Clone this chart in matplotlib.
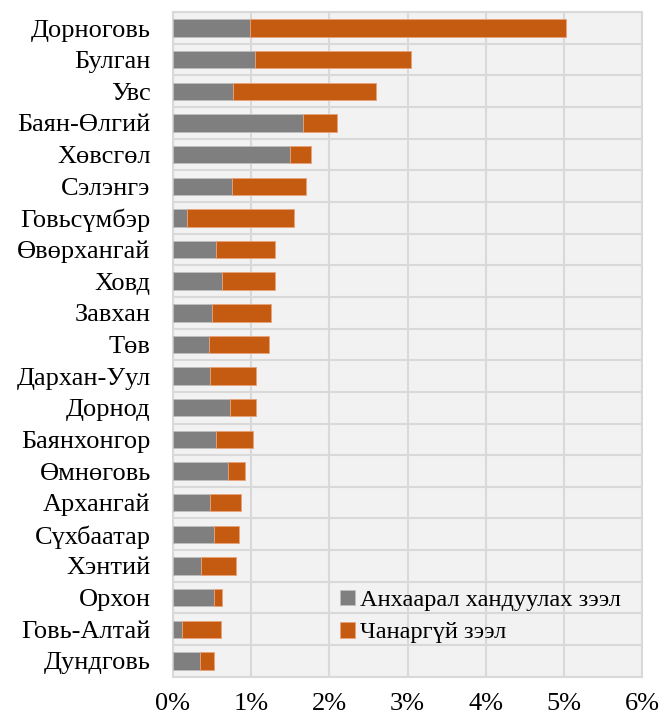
import matplotlib
matplotlib.use("Agg")
import matplotlib.pyplot as plt
import numpy as np

categories = ["Дорноговь", "Булган", "Увс", "Баян-Өлгий", "Хөвсгөл", "Сэлэнгэ",
              "Говьсүмбэр", "Өвөрхангай", "Ховд", "Завхан", "Төв", "Дархан-Уул",
              "Дорнод", "Баянхонгор", "Өмнөговь", "Архангай", "Сүхбаатар", "Хэнтий",
              "Орхон", "Говь-Алтай", "Дундговь"]
attention = [0.99, 1.05, 0.77, 1.66, 1.50, 0.76, 0.18, 0.55, 0.63, 0.50, 0.46, 0.47,
             0.73, 0.55, 0.71, 0.47, 0.53, 0.36, 0.52, 0.11, 0.34]
total = [5.03, 3.04, 2.60, 2.10, 1.77, 1.70, 1.55, 1.30, 1.30, 1.25, 1.23, 1.06,
         1.06, 1.02, 0.92, 0.87, 0.84, 0.81, 0.63, 0.61, 0.52]
nonperforming = [t - a for t, a in zip(total, attention)]
series_names = ["Анхаарал хандуулах зээл", "Чанаргүй зээл"]
xticks = [0, 1, 2, 3, 4, 5, 6]
xticklabels = ["0%", "1%", "2%", "3%", "4%", "5%", "6%"]

plt.rcParams['font.family'] = ['Liberation Serif', 'DejaVu Serif']

fig = plt.figure(figsize=(6.6, 7.18), dpi=100)
ax = fig.add_axes([0.262, 0.0575, 0.711, 0.9255])
ax.set_facecolor("#F2F2F2")

y = np.arange(len(categories))
ax.barh(y, attention, height=0.55, color="#7F7F7F", edgecolor="#BFBFBF", linewidth=0.6,
        label=series_names[0], zorder=3)
ax.barh(y, nonperforming, left=attention, height=0.55, color="#C55A11", edgecolor="#E8A27A",
        linewidth=0.6, label=series_names[1], zorder=3)

fs = 19
ax.set_ylim(len(categories) - 0.5, -0.5)
ax.set_xlim(0, 6)
ax.set_yticks(y)
ax.set_yticklabels(categories, fontsize=fs)
ax.set_xticks(xticks)
ax.set_xticklabels(xticklabels, fontsize=fs)
ax.set_yticks(np.arange(-0.5, len(categories), 1), minor=True)
ax.tick_params(axis='y', which='both', length=0, pad=16)
ax.tick_params(axis='x', length=0, pad=12)
ax.grid(axis='x', which='major', color="#D9D9D9", linewidth=1.5, zorder=0)
ax.grid(axis='y', which='minor', color="#D9D9D9", linewidth=1.5, zorder=0)
for s in ax.spines.values():
    s.set_color("#D9D9D9")
    s.set_linewidth(1.5)

leg = ax.legend(loc='upper left', bbox_to_anchor=(0.356, 0.131), frameon=False,
                fontsize=17.6, handlelength=0.6, handleheight=0.6, handletextpad=0.2,
                labelspacing=0.45, borderpad=0, borderaxespad=0)

fig.savefig("out.png", dpi=100)
